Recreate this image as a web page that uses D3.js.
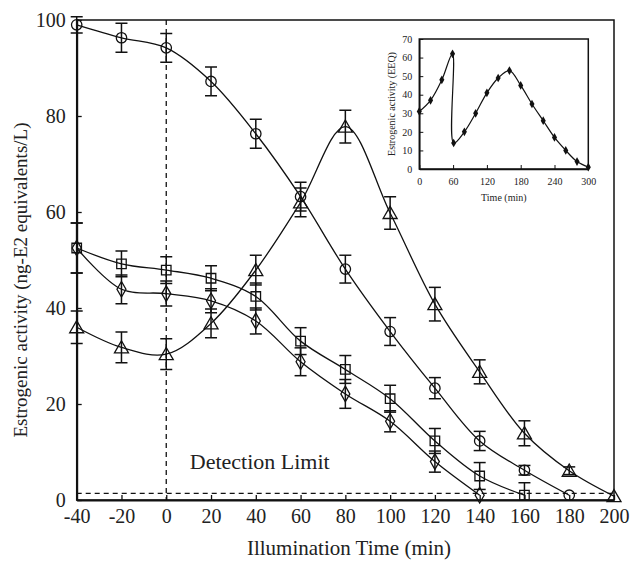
<!DOCTYPE html>
<html>
<head>
<meta charset="utf-8">
<script src="https://cdn.jsdelivr.net/npm/d3@7"></script>
<style>
body { margin: 0; background: #fff; }
text { font-family: "Liberation Serif", "Times New Roman", serif; fill: #222; }
</style>
</head>
<body>
<div id="chart"></div>
<script>
// main chart data
var times = [-40, -20, 0, 20, 40, 60, 80, 100, 120, 140, 160, 180, 200];
var circleVals = [99, 96.3, 94.2, 87.2, 76.3, 63.2, 48.1, 35.1, 23.3, 12.3, 6.2, 1];
var circleErr = [1.7, 3, 3, 3, 3, 3, 2.9, 2.9, 2.2, 2, 1, 0];
var triangleVals = [36, 31.8, 30.4, 36.8, 47.9, 62, 77.8, 59.8, 40.8, 26.7, 13.9, 6.1, 0.8];
var triangleErr = [3.4, 3.2, 3.2, 3, 3.1, 3, 3.4, 3.4, 3.5, 2.5, 2.6, 0.8, 0];
var squareVals = [52.5, 49.2, 47.9, 46.2, 42.4, 33.1, 27.2, 21.1, 12.3, 5, 1];
var squareErr = [5.2, 2.7, 2.8, 2.6, 2.8, 2.8, 2.9, 2.8, 2.6, 2.8, 2.6];
var diamondVals = [52.5, 43.9, 43, 41.5, 37.3, 28.8, 22.1, 16.4, 8, 1];
var diamondErr = [5.2, 3, 2.6, 2.5, 2.7, 2.9, 3, 2.2, 2.2, 0];
var detectionLimit = 1.4;
var xTicks = [-40, -20, 0, 20, 40, 60, 80, 100, 120, 140, 160, 180, 200];
var yTicks = [0, 20, 40, 60, 80, 100];

// inset data
var insetTimes = [0, 20, 40, 59, 61, 80, 100, 120, 140, 160, 180, 200, 220, 240, 260, 280, 300];
var insetVals = [31, 37, 48, 62, 14, 20, 30, 41, 49, 53, 45, 35, 26, 17, 10, 4, 1];
var insetXTicks = [0, 60, 120, 180, 240, 300];
var insetYTicks = [0, 10, 20, 30, 40, 50, 60, 70];

var width = 630, height = 562;
var svg = d3.select("#chart").append("svg").attr("width", width).attr("height", height);

var x = d3.scaleLinear().domain([-40, 200]).range([76.7, 614]);
var y = d3.scaleLinear().domain([0, 100]).range([500, 20]);

function series(vals, errs, shape){
	return vals.map(function(v, i){ return { t: times[i], v: v, e: errs[i], shape: shape }; });
}
var allSeries = [
	series(circleVals, circleErr, "circle"),
	series(triangleVals, triangleErr, "triangle"),
	series(squareVals, squareErr, "square"),
	series(diamondVals, diamondErr, "diamond")
];

// frame
svg.append("rect")
	.attr("x", x(-40)).attr("y", y(100))
	.attr("width", x(200) - x(-40)).attr("height", y(0) - y(100))
	.attr("fill", "none").attr("stroke", "#111").attr("stroke-width", 1.5);

// axes with inward ticks, plain hyphen for negatives
var fmt = function(d){ return String(d); };
var xAxis = d3.axisBottom(x).tickValues(xTicks).tickFormat(fmt).tickSizeInner(-5).tickSizeOuter(0).tickPadding(9);
var yAxis = d3.axisLeft(y).tickValues(yTicks).tickFormat(fmt).tickSizeInner(-5).tickSizeOuter(0).tickPadding(11);

var gx = svg.append("g").attr("transform", "translate(0," + y(0) + ")").call(xAxis);
var gy = svg.append("g").attr("transform", "translate(" + x(-40) + ",0)").call(yAxis);
[gx, gy].forEach(function(g){
	g.attr("font-family", null);
	g.select(".domain").attr("stroke", "#111").attr("stroke-width", 2);
	g.selectAll(".tick line").attr("stroke", "#111").attr("stroke-width", 1.3);
	g.selectAll(".tick text").style("font-family", "Liberation Serif").style("font-size", "20px").attr("fill", "#222");
});

// dashed guide lines
svg.append("line")
	.attr("x1", x(0)).attr("x2", x(0)).attr("y1", y(100)).attr("y2", y(0))
	.attr("stroke", "#111").attr("stroke-width", 1.3).attr("stroke-dasharray", "5,4");
svg.append("line")
	.attr("x1", x(-40)).attr("x2", x(200)).attr("y1", y(detectionLimit)).attr("y2", y(detectionLimit))
	.attr("stroke", "#111").attr("stroke-width", 1.3).attr("stroke-dasharray", "5,4");

svg.append("text")
	.attr("x", x(10.5)).attr("y", y(6.5))
	.style("font-size", "22px")
	.text("Detection Limit");

// axis titles
svg.append("text")
	.attr("x", 349).attr("y", 555)
	.attr("text-anchor", "middle").style("font-size", "21px")
	.text("Illumination Time (min)");
svg.append("text")
	.attr("transform", "translate(27,280) rotate(-90)")
	.attr("text-anchor", "middle").style("font-size", "19px")
	.text("Estrogenic activity (ng-E2 equivalents/L)");

// curves
var line = d3.line()
	.x(function(d){ return x(d.t); })
	.y(function(d){ return y(d.v); })
	.curve(d3.curveCatmullRom.alpha(0.5));

svg.append("clipPath").attr("id", "plotclip").append("rect")
	.attr("x", x(-40) - 10).attr("y", y(100) - 10)
	.attr("width", x(200) - x(-40) + 20).attr("height", y(0) - y(100) + 10);

var plot = svg.append("g").attr("clip-path", "url(#plotclip)");

allSeries.forEach(function(s){
	plot.append("path")
		.attr("d", line(s))
		.attr("fill", "none").attr("stroke", "#111").attr("stroke-width", 1.3);
});

// error bars
allSeries.forEach(function(s){
	var bars = plot.selectAll(null).data(s.filter(function(d){ return d.e > 0; })).enter().append("g");
	bars.append("line")
		.attr("x1", function(d){ return x(d.t); }).attr("x2", function(d){ return x(d.t); })
		.attr("y1", function(d){ return y(d.v + d.e); }).attr("y2", function(d){ return y(Math.max(0, d.v - d.e)); })
		.attr("stroke", "#111").attr("stroke-width", 1.5);
	bars.append("line")
		.attr("x1", function(d){ return x(d.t) - 6; }).attr("x2", function(d){ return x(d.t) + 6; })
		.attr("y1", function(d){ return y(d.v + d.e); }).attr("y2", function(d){ return y(d.v + d.e); })
		.attr("stroke", "#111").attr("stroke-width", 1.5);
	bars.filter(function(d){ return d.v - d.e > 0; }).append("line")
		.attr("x1", function(d){ return x(d.t) - 6; }).attr("x2", function(d){ return x(d.t) + 6; })
		.attr("y1", function(d){ return y(d.v - d.e); }).attr("y2", function(d){ return y(d.v - d.e); })
		.attr("stroke", "#111").attr("stroke-width", 1.5);
});

// markers
var symbolTypes = {
	circle: d3.symbol().type(d3.symbolCircle).size(85),
	triangle: d3.symbol().type(d3.symbolTriangle).size(85),
	square: d3.symbol().type(d3.symbolSquare).size(90),
	diamond: d3.symbol().type(d3.symbolDiamond).size(70)
};
allSeries.forEach(function(s){
	svg.selectAll(null).data(s).enter().append("path")
		.attr("d", function(d){ return symbolTypes[d.shape](); })
		.attr("transform", function(d){
			var dy = d.shape == "triangle" ? 1.5 : 0;
			return "translate(" + x(d.t) + "," + (y(d.v) + dy) + ")";
		})
		.attr("fill", "none").attr("stroke", "#111").attr("stroke-width", 1.3);
});

// inset
var ix = d3.scaleLinear().domain([0, 300]).range([419.3, 588.3]);
var iy = d3.scaleLinear().domain([0, 70]).range([169, 39]);
var inset = svg.append("g");

inset.append("rect")
	.attr("x", ix(0)).attr("y", iy(70))
	.attr("width", ix(300) - ix(0)).attr("height", iy(0) - iy(70))
	.attr("fill", "none").attr("stroke", "#111").attr("stroke-width", 1.5);

var ixAxis = d3.axisBottom(ix).tickValues(insetXTicks).tickSizeInner(-4).tickSizeOuter(0).tickPadding(9);
var iyAxis = d3.axisLeft(iy).tickValues(insetYTicks).tickSizeInner(-4).tickSizeOuter(0).tickPadding(7);
var igx = inset.append("g").attr("transform", "translate(0," + iy(0) + ")").call(ixAxis);
var igy = inset.append("g").attr("transform", "translate(" + ix(0) + ",0)").call(iyAxis);
[igx, igy].forEach(function(g){
	g.attr("font-family", null);
	g.select(".domain").attr("stroke", "#111").attr("stroke-width", 1.5);
	g.selectAll(".tick line").attr("stroke", "#111");
	g.selectAll(".tick text").style("font-family", "Liberation Serif").style("font-size", "10px").attr("fill", "#333");
});

inset.append("text")
	.attr("x", (ix(0) + ix(300)) / 2).attr("y", 201)
	.attr("text-anchor", "middle").style("font-size", "10px").attr("fill", "#333")
	.text("Time (min)");
inset.append("text")
	.attr("transform", "translate(395," + iy(35) + ") rotate(-90)")
	.attr("text-anchor", "middle").style("font-size", "10px").attr("fill", "#333")
	.text("Estrogenic activity (EEQ)");

var insetPts = insetTimes.map(function(t, i){ return { t: t, v: insetVals[i] }; });
var iline = d3.line()
	.x(function(d){ return ix(d.t); })
	.y(function(d){ return iy(d.v); })
	.curve(d3.curveCatmullRom.alpha(0.5));
inset.append("path")
	.attr("d", iline(insetPts))
	.attr("fill", "none").attr("stroke", "#111").attr("stroke-width", 1.2);
inset.selectAll(null).data(insetPts).enter().append("path")
	.attr("d", d3.symbol().type(d3.symbolDiamond).size(22)())
	.attr("transform", function(d){ return "translate(" + ix(d.t) + "," + iy(d.v) + ")"; })
	.attr("fill", "#111");
</script>
</body>
</html>
